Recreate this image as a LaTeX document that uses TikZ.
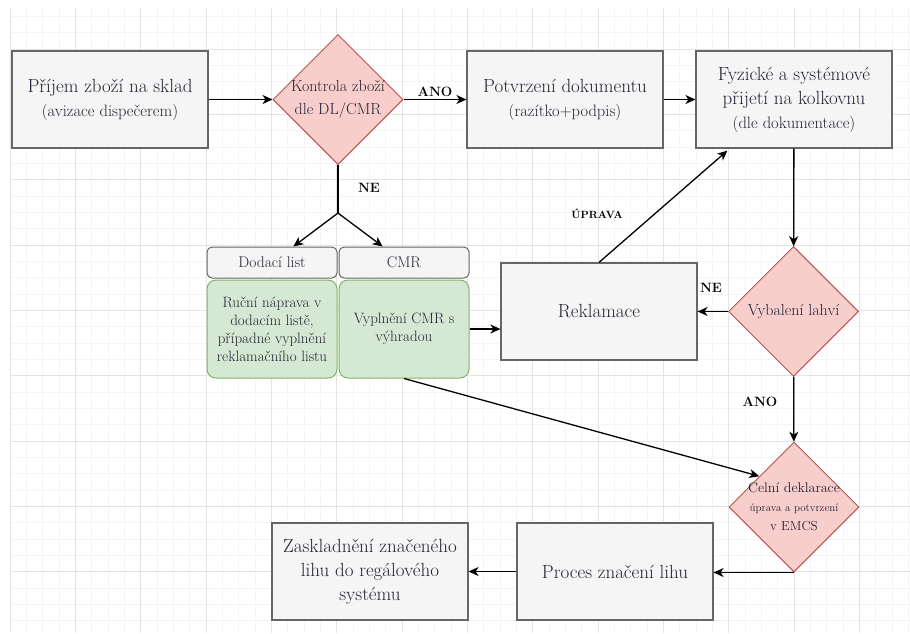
\documentclass[tikz,border=0pt]{standalone}
\usepackage{fontspec}
\newcommand{\boxfont}{\rmfamily}
\usetikzlibrary{positioning,shapes.geometric,arrows.meta,calc}

\definecolor{boxfill}{HTML}{F5F5F5}
\definecolor{boxline}{HTML}{666666}
\definecolor{decfill}{HTML}{F8CECC}
\definecolor{decline}{HTML}{B85450}
\definecolor{notefill}{HTML}{D5E8D4}
\definecolor{noteline}{HTML}{82B366}
\definecolor{txtgray}{HTML}{232333}
\definecolor{gridminor}{HTML}{F5F5F5}
\definecolor{gridmajor}{HTML}{E4E4E4}

\newcommand{\mainsz}{\boxfont\fontsize{19}{24}\selectfont}
\newcommand{\subsz}{\boxfont\fontsize{16.5}{24}\selectfont}

\tikzset{
  procbox/.style={rectangle,draw=boxline,fill=boxfill,line width=1.2pt,
    minimum width=196pt,minimum height=97pt,inner sep=2pt,
    align=center,text=txtgray,font=\mainsz},
  decision/.style={diamond,draw=decline,fill=decfill,line width=1pt,
    minimum width=130pt,minimum height=130pt,inner ysep=0pt,inner xsep=-16pt,
    align=center,text=txtgray,font=\boxfont\fontsize{16}{23}\selectfont},
  tabbox/.style={rectangle,rounded corners=5pt,draw=boxline,fill=boxfill,line width=1pt,
    minimum width=130pt,minimum height=31pt,inner sep=0pt,
    text=txtgray,font=\boxfont\fontsize{15.5}{19}\selectfont},
  notebox/.style={rectangle,rounded corners=9pt,draw=noteline,fill=notefill,line width=1pt,
    minimum width=130pt,minimum height=98pt,inner sep=0pt,
    align=center,text=txtgray,font=\boxfont\fontsize{15}{18}\selectfont},
  lbl/.style={font=\boxfont\fontsize{13.5}{16}\selectfont\bfseries,inner sep=0pt},
  flow/.style={line width=1.3pt,-{Stealth[length=10pt,width=9pt,inset=3pt]}}
}

\begin{document}
\begin{tikzpicture}[x=1pt,y=-1pt]
\useasboundingbox (0,0) rectangle (910,633);

% grid
\begin{scope}
\clip (10,8) rectangle (910,633);
\foreach \i in {0,...,55} \draw[gridminor,line width=0.7pt] ({10+16.333*\i},8) -- ({10+16.333*\i},633);
\foreach \j in {-2,...,35} \draw[gridminor,line width=0.7pt] (10,{49+16.333*\j}) -- (910,{49+16.333*\j});
\foreach \i in {0,...,13} \draw[gridmajor,line width=0.8pt] ({10+65.333*\i},8) -- ({10+65.333*\i},633);
\foreach \j in {0,...,8} \draw[gridmajor,line width=0.8pt] (10,{49+65.333*\j}) -- (910,{49+65.333*\j});
\end{scope}

% top row
\node[procbox] (recv) at (110,99.5) {Příjem zboží na sklad\\{\subsz (avizace dispečerem)}};
\node[decision] (check) at (338,99.5) {Kontrola zboží\\dle DL/CMR};
\node[procbox] (confirm) at (565,99.5) {Potvrzení dokumentu\\{\subsz (razítko+podpis)}};
\node[procbox] (intake) at (794,99.5) {Fyzické a systémové\\přijetí na kolkovnu\\{\subsz (dle dokumentace)}};

% documents
\coordinate (split) at (338,213);
\node[tabbox] (dltab) at (272,262.5) {Dodací list};
\node[tabbox,right=1pt of dltab] (cmrtab) {CMR};
\node[notebox,below=1pt of dltab] (dlfix) {Ruční náprava v\\dodacím listě,\\případné vyplnění\\reklamačního listu};
\node[notebox,below=1pt of cmrtab] (cmrfix) {Vyplnění CMR s\\výhradou};

% middle
\node[procbox] (claim) at (599,311.5) {Reklamace};
\node[decision] (unpack) at (793.5,311.5) {Vybalení lahví};
\node[decision,font=\boxfont\fontsize{13}{19}\selectfont] (customs) at (794,507)
  {{\fontsize{14}{19}\selectfont Celní deklarace}\\{\fontsize{11}{19}\selectfont úprava a potvrzení}\\v EMCS};

% bottom row
\node[procbox] (marking) at (615,571.5) {Proces značení lihu};
\node[procbox] (store) at (370,571.5) {Zaskladnění značeného\\lihu do regálového\\systému};

% labels
\node[lbl] (ano1) at (435,92) {ANO};
\node[lbl] (ne1) at (369,188) {NE};
\node[lbl,font=\boxfont\fontsize{10.5}{13}\selectfont\bfseries] (fix) at (597,214) {ÚPRAVA};
\node[lbl] (ne2) at (711,288) {NE};
\node[lbl] (ano2) at (760,402) {ANO};

% connectors
\draw[flow] (recv) -- (check);
\draw[flow] (check) -- (confirm);
\draw[flow] (confirm) -- (intake);
\draw[flow] (intake) -- (unpack);
\draw[line width=1.3pt] (check.south) -- (split);
\draw[flow] (split) -- (dltab);
\draw[flow] (split) -- (cmrtab);
\draw[flow] (cmrfix.east) -- (cmrfix.east -| claim.west);
\draw[flow] (claim.north) -- ($(intake.south west)+(32,2)$);
\draw[flow] (unpack) -- (claim);
\draw[flow] (unpack) -- (customs);
\draw[flow] (cmrfix.south) -- ($(customs.west)!0.47!(customs.north)$);
\draw[flow] (customs.south) -- (customs.south -| marking.east);
\draw[flow] (marking) -- (store);
\end{tikzpicture}
\end{document}
